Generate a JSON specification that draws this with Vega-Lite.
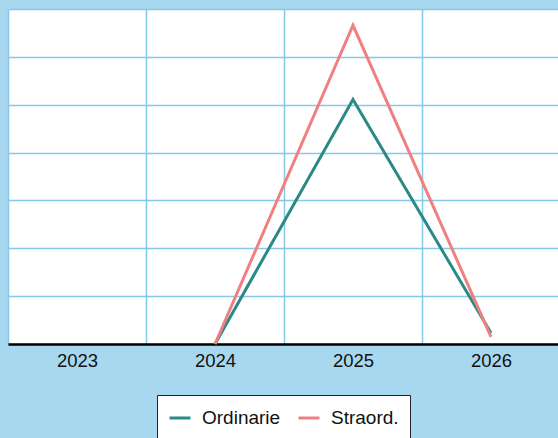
{
  "$schema": "https://vega.github.io/schema/vega-lite/v6.json",
  "width": 552,
  "height": 335,
  "padding": {"left": 8, "top": 9, "right": 0, "bottom": 0},
  "background": "#a8d8f0",
  "config": {
    "view": {"fill": "white", "stroke": null},
    "font": "Liberation Sans"
  },
  "data": {
    "values": [
      {"year": "2024", "serie": "Ordinarie", "value": 0},
      {"year": "2025", "serie": "Ordinarie", "value": 5.11},
      {"year": "2026", "serie": "Ordinarie", "value": 0.23},
      {"year": "2024", "serie": "Straord.", "value": 0},
      {"year": "2025", "serie": "Straord.", "value": 6.66},
      {"year": "2026", "serie": "Straord.", "value": 0.15}
    ]
  },
  "mark": {"type": "line", "strokeWidth": 3, "clip": false},
  "encoding": {
    "x": {
      "field": "year",
      "type": "ordinal",
      "bandPosition": 0.5,
      "scale": {"type": "band", "domain": ["2023", "2024", "2025", "2026"], "paddingInner": 0, "paddingOuter": 0},
      "axis": {
        "title": null,
        "labelAngle": 0,
        "labelFontSize": 18.5,
        "labelColor": "#111111",
        "labelPadding": 7,
        "ticks": false,
        "tickBand": "extent",
        "grid": true,
        "gridColor": "#86c8e8",
        "gridWidth": 1.5,
        "domainColor": "#000000",
        "domainWidth": 2.5
      }
    },
    "y": {
      "field": "value",
      "type": "quantitative",
      "scale": {"domain": [0, 7], "nice": false},
      "axis": {
        "title": null,
        "labels": false,
        "ticks": false,
        "domain": false,
        "values": [0, 1, 2, 3, 4, 5, 6, 7],
        "gridColor": "#86c8e8",
        "gridWidth": 1.5
      }
    },
    "color": {
      "field": "serie",
      "type": "nominal",
      "scale": {"domain": ["Ordinarie", "Straord."], "range": ["#2b8a85", "#f08080"]},
      "legend": {
        "title": null,
        "orient": "none",
        "legendX": 149,
        "legendY": 386,
        "direction": "horizontal",
        "fillColor": "white",
        "strokeColor": "#222222",
        "padding": 11,
        "symbolType": "stroke",
        "symbolStrokeWidth": 3,
        "symbolSize": 440,
        "labelFontSize": 19,
        "labelColor": "#111111",
        "labelOffset": 10,
        "columnPadding": 11
      }
    }
  }
}
